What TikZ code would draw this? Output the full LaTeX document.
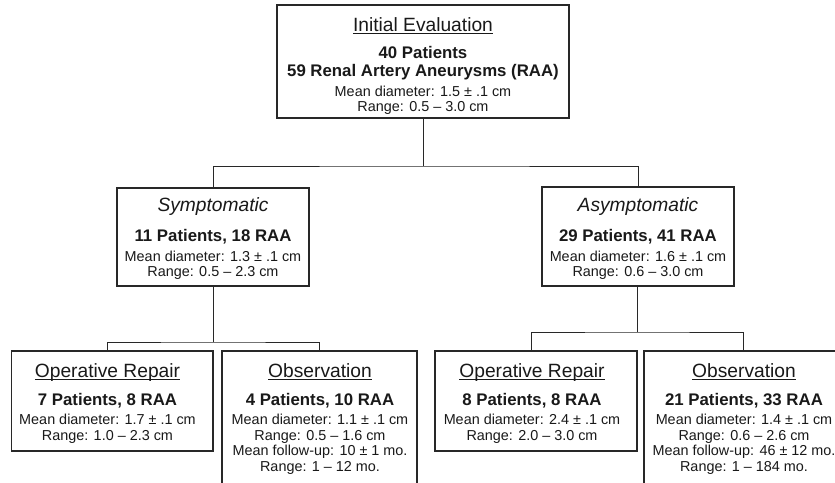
\documentclass[tikz,border=0pt]{standalone}
\usepackage{fontspec}
\setmainfont{Liberation Sans}
\newcommand\ulttl[1]{\leavevmode\setbox0=\hbox{#1}\rlap{\rule[-3.3pt]{\wd0}{1pt}}\box0}
\definecolor{lc}{RGB}{40,40,40}
\definecolor{tc}{RGB}{25,25,25}
\begin{document}
\begin{tikzpicture}[x=1pt,y=-1pt,
  box/.style={draw=lc, line width=1.2pt, rectangle, inner sep=0pt, outer sep=0pt},
  ttl/.style={anchor=base, inner sep=0pt, text=tc, font=\fontsize{19.2}{22}\selectfont},
  bld/.style={anchor=base, inner sep=0pt, text=tc, font=\fontsize{16.8}{19}\selectfont\bfseries},
  txt/.style={anchor=base, inner sep=0pt, text=tc, font=\fontsize{14.4}{16}\selectfont},
  conn/.style={draw=lc, line width=1pt}]
\path[use as bounding box, clip] (0,0) rectangle (835,482);
\fill[white] (0,0) rectangle (835,482);

% boxes
\node[box, minimum width=292pt, minimum height=113pt] (top) at (423,61.5) {};
\node[box, minimum width=192pt, minimum height=98pt] (sym) at (213,237) {};
\node[box, minimum width=192pt, minimum height=99pt] (asym) at (638,236.5) {};
\node[box, minimum width=201.5pt, minimum height=100pt] (op1) at (112.25,401) {};
\node[box, minimum width=195pt, minimum height=149pt] (obs1) at (319.5,425.5) {};
\node[box, minimum width=202pt, minimum height=100pt] (op2) at (536,401) {};
\node[box, minimum width=200pt, minimum height=149pt] (obs2) at (744,425.5) {};

% top text
\node[ttl] (a0) at (423,31) {\ulttl{Initial Evaluation}};
\node[bld] (a1) at (423,58) {40 Patients};
\node[bld] (a2) at (423,76) {59 Renal Artery Aneurysms (RAA)};
\node[txt] (a3) at (423,96.5) {Mean diameter: 1.5 ± .1 cm};
\node[txt] (a4) at (423,111.5) {Range: 0.5 – 3.0 cm};

% symptomatic
\node[ttl] (b0) at (213,211) {\itshape Symptomatic};
\node[bld] (b1) at (213,241) {11 Patients, 18 RAA};
\node[txt] (b2) at (213,261.5) {Mean diameter: 1.3 ± .1 cm};
\node[txt] (b3) at (213,276.5) {Range: 0.5 – 2.3 cm};

% asymptomatic
\node[ttl] (c0) at (638,211) {\itshape Asymptomatic};
\node[bld] (c1) at (638,241) {29 Patients, 41 RAA};
\node[txt] (c2) at (638,261.5) {Mean diameter: 1.6 ± .1 cm};
\node[txt] (c3) at (638,276.5) {Range: 0.6 – 3.0 cm};

% operative repair 1
\node[ttl] (d0) at (107.5,377) {\ulttl{Operative Repair}};
\node[bld] (d1) at (107.5,405) {7 Patients, 8 RAA};
\node[txt] (d2) at (107.5,424.5) {Mean diameter: 1.7 ± .1 cm};
\node[txt] (d3) at (107.5,440) {Range: 1.0 – 2.3 cm};

% observation 1
\node[ttl] (e0) at (320,377) {\ulttl{Observation}};
\node[bld] (e1) at (320,405) {4 Patients, 10 RAA};
\node[txt] (e2) at (320,424.5) {Mean diameter: 1.1 ± .1 cm};
\node[txt] (e3) at (320,440) {Range: 0.5 – 1.6 cm};
\node[txt] (e4) at (320,455.5) {Mean follow-up: 10 ± 1 mo.};
\node[txt] (e5) at (320,471) {Range: 1 – 12 mo.};

% operative repair 2
\node[ttl] (f0) at (532,377) {\ulttl{Operative Repair}};
\node[bld] (f1) at (532,405) {8 Patients, 8 RAA};
\node[txt] (f2) at (532,424.5) {Mean diameter: 2.4 ± .1 cm};
\node[txt] (f3) at (532,440) {Range: 2.0 – 3.0 cm};

% observation 2
\node[ttl] (g0) at (744,377) {\ulttl{Observation}};
\node[bld] (g1) at (744,405) {21 Patients, 33 RAA};
\node[txt] (g2) at (744,424.5) {Mean diameter: 1.4 ± .1 cm};
\node[txt] (g3) at (744,440) {Range: 0.6 – 2.6 cm};
\node[txt] (g4) at (744,455.5) {Mean follow-up: 46 ± 12 mo.};
\node[txt] (g5) at (744,471) {Range: 1 – 184 mo.};

% connectors
\coordinate (j0) at (423,166);
\coordinate (j1) at (213,342);
\coordinate (j2) at (637,332);
\coordinate (op1in) at (107,351);
\coordinate (op2in) at (531,351);
\coordinate (obs2in) at (743,351);
\draw[conn] (top.south) -- (j0);
\draw[conn] (sym.north) |- (j0) -| (asym.north);
\draw[conn] (sym.south) -- (j1);
\draw[conn] (op1in) |- (j1) -| (obs1.north);
\draw[conn] (asym.south -| j2) -- (j2);
\draw[conn] (op2in) |- (j2) -| (obs2in);
\end{tikzpicture}
\end{document}
